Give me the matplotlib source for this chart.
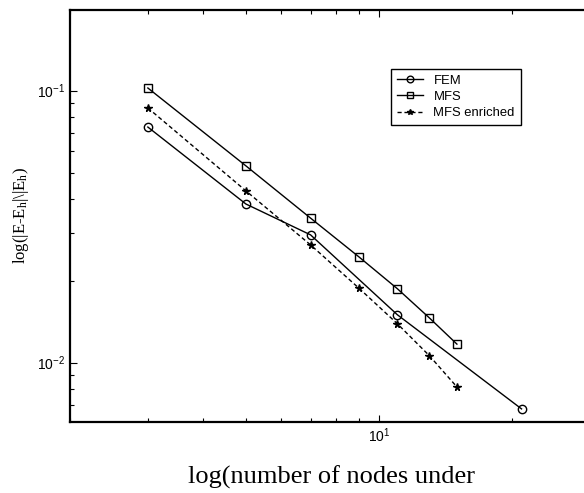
import numpy as np
import matplotlib
matplotlib.use('Agg')
import matplotlib.pyplot as plt
from matplotlib.ticker import LogLocator, FuncFormatter, NullFormatter

plt.rcParams['mathtext.fontset'] = 'custom'
plt.rcParams['mathtext.rm'] = 'Liberation Serif'
plt.rcParams['mathtext.sf'] = 'Liberation Sans'
plt.rcParams['mathtext.it'] = 'Liberation Serif:italic'

# Data
fem_n = [3, 5, 7, 11, 21]
fem_err = [0.0735, 0.0383, 0.0295, 0.0150, 0.00676]
mfs_n = [3, 5, 7, 9, 11, 13, 15]
mfs_err = [0.1023, 0.0529, 0.0340, 0.0245, 0.0187, 0.0146, 0.0117]
enr_n = [3, 5, 7, 9, 11, 13, 15]
enr_err = [0.0864, 0.0428, 0.0271, 0.0188, 0.0139, 0.0106, 0.00814]

fig = plt.figure(figsize=(5.84, 4.93), dpi=100)
# axes runs past the right edge of the figure, as in the original crop
ax = fig.add_axes([70 / 584, 71 / 493, 530 / 584, 412 / 493])

ax.plot(fem_n, fem_err, color='black', lw=1.0, marker='o', ms=6,
        mfc='none', mec='black', mew=1.0, label='FEM')
ax.plot(mfs_n, mfs_err, color='black', lw=1.0, marker='s', ms=6,
        mfc='none', mec='black', mew=1.0, label='MFS')
ax.plot(enr_n, enr_err, color='black', lw=1.0, ls=(0, (3, 2)), marker='*', ms=5.5,
        mfc='black', mec='black', label='MFS enriched')

ax.set_xscale('log')
ax.set_yscale('log')
ax.set_xlim(2, 31.6)
ax.set_ylim(0.00605, 0.198)

def sci_fmt(v, pos):
    e = int(round(np.log10(v)))
    return r'$\mathsf{10^{%d}}$' % e

for axis in (ax.xaxis, ax.yaxis):
    axis.set_major_locator(LogLocator(base=10))
    axis.set_minor_locator(LogLocator(base=10, subs=np.arange(2, 10)))
    axis.set_major_formatter(FuncFormatter(sci_fmt))
    axis.set_minor_formatter(NullFormatter())

ax.tick_params(which='both', direction='in', top=True, right=True, labelsize=10)
ax.tick_params(which='major', length=5, width=0.8)
ax.tick_params(which='minor', length=3, width=0.8)
for s in ax.spines.values():
    s.set_linewidth(1.6)

ax.set_ylabel(r'log(|E-E$_{\rm h}$|\|E$_{\rm h}$)', fontfamily='Liberation Serif', fontsize=12)
ax.yaxis.set_label_coords(-0.074, 0.5)
ax.set_xlabel('log(number of nodes under', fontfamily='Liberation Serif', fontsize=19,
              va='baseline')
ax.xaxis.set_label_coords((332 - 70) / 530, -0.15)

leg = ax.legend(loc='upper left', bbox_to_anchor=((391 - 70) / 530, (422 - 69) / 412),
                borderaxespad=0, fancybox=False, edgecolor='black', framealpha=1,
                prop={'family': 'Liberation Sans', 'size': 9.4},
                handlelength=2.0, handletextpad=0.8, labelspacing=0.3,
                borderpad=0.45, markerscale=0.8)
leg.get_frame().set_linewidth(1.0)

fig.savefig('out.png', dpi=100)
